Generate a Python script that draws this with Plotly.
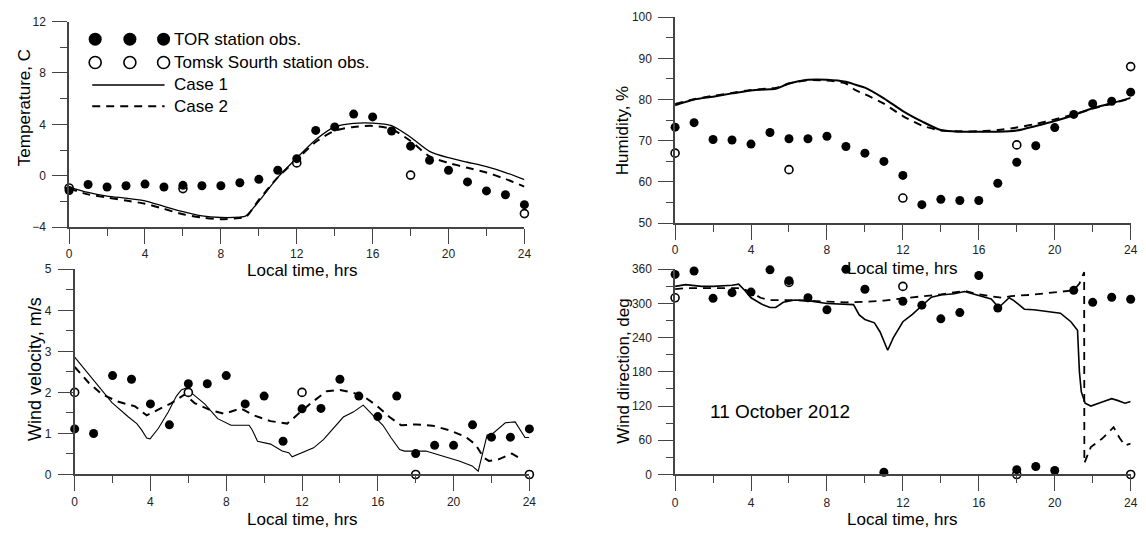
import plotly.graph_objects as go

# ---------------- data ----------------
hours = list(range(25))
tomsk_hours = [0, 6, 12, 18, 24]

# Temperature, C
temp_tor = [-1.15, -0.68, -0.88, -0.78, -0.65, -0.88, -0.75, -0.78, -0.78, -0.55, -0.28, 0.43, 1.33,
            3.53, 3.8, 4.8, 4.58, 3.48, 2.3, 1.2, 0.43, -0.48, -1.18, -1.48, -2.25]
temp_tomsk = [-0.95, -1.0, 1.0, 0.05, -2.95]
temp_model_hours = [0, 1, 2, 3, 4, 5, 6, 7, 8, 9, 9.3, 10, 11, 12, 13, 14, 15, 16, 17, 18, 19, 20, 21, 22, 23, 24]
temp_case1 = [-0.88, -1.3, -1.58, -1.75, -1.95, -2.38, -2.8, -3.13, -3.25, -3.22, -3.15, -2.0, -0.13, 1.38,
              2.8, 3.8, 4.08, 4.1, 3.9, 3.0, 1.9, 1.4, 1.05, 0.7, 0.25, -0.3]
temp_case2 = [-1.0, -1.45, -1.7, -1.93, -2.18, -2.58, -3.0, -3.25, -3.38, -3.3, -3.25, -1.88, -0.13, 1.25,
              2.63, 3.5, 3.8, 3.88, 3.63, 2.7, 1.5, 1.0, 0.62, 0.25, -0.25, -0.85]

# Humidity, %
hum_tor = [73.3, 74.4, 70.3, 70.2, 69.2, 72.0, 70.5, 70.5, 71.1, 68.6, 67.0, 65.0, 61.6, 54.5, 55.8,
           55.5, 55.5, 59.7, 64.8, 68.8, 73.2, 76.4, 79.0, 79.6, 81.8]
hum_tomsk = [67.0, 63.0, 56.1, 69.0, 88.0]
hum_model_hours = [0, 1, 2, 3, 4, 5, 5.3, 6, 7, 8, 9, 9.5, 10, 11, 12, 13, 14, 15, 16, 17, 18, 19, 20, 21, 22, 23, 24]
hum_case1 = [78.6, 80.0, 80.7, 81.5, 82.2, 82.5, 82.6, 83.9, 84.8, 84.8, 84.3, 83.6, 82.9, 80.3, 77.2,
             74.7, 72.6, 72.2, 72.2, 72.2, 72.5, 73.6, 74.8, 76.2, 77.9, 79.1, 80.4]
hum_case2 = [78.9, 80.1, 80.9, 81.6, 82.3, 82.7, 82.8, 83.9, 84.7, 84.6, 83.9, 82.3, 81.3, 79.0, 76.0,
             73.7, 72.5, 72.3, 72.3, 72.6, 73.2, 74.1, 75.2, 76.4, 77.8, 79.0, 80.3]

# Wind velocity, m/s
vel_tor = [1.11, 1.0, 2.41, 2.32, 1.72, 1.21, 2.21, 2.21, 2.41, 1.72, 1.91, 0.81, 1.6, 1.61, 2.32,
           1.91, 1.41, 1.91, 0.51, 0.71, 0.71, 1.21, 0.91, 0.91, 1.11]
vel_tomsk = [2.0, 2.0, 2.0, 0.0, 0.0]
vel_case1_hours = [0, 1.1, 1.97, 2.84, 3.28, 3.54, 3.8, 3.98, 4.41, 4.94, 5.37, 5.63, 5.9, 6.16, 6.86,
                   7.55, 8.25, 9.21, 9.38, 9.65, 10.34, 10.95, 11.3, 11.48, 11.91, 12.61, 13.13, 13.66,
                   14.18, 14.7, 15.23, 15.84, 16.27, 16.71, 17.15, 17.41, 18.54, 19.41, 20.29, 20.98,
                   21.3, 21.77, 22.03, 22.73, 23.25, 23.77, 24.0]
vel_case1 = [2.86, 2.23, 1.75, 1.4, 1.24, 1.08, 0.89, 0.87, 1.12, 1.52, 1.91, 2.06, 2.11, 1.99, 1.72,
             1.36, 1.2, 1.2, 1.08, 0.81, 0.74, 0.57, 0.53, 0.43, 0.51, 0.65, 0.85, 1.12,
             1.4, 1.52, 1.69, 1.4, 1.2, 0.89, 0.61, 0.57, 0.57, 0.45, 0.33, 0.21,
             0.08, 0.96, 0.98, 1.26, 1.28, 0.9, 0.9]
vel_case2_hours = [0, 0.75, 1.45, 2.32, 3.19, 3.8, 4.41, 5.11, 5.81, 6.33, 7.2, 7.9, 8.77, 9.47, 10.34,
                   11.22, 11.91, 12.61, 13.31, 14.01, 14.7, 15.23, 15.93, 16.62, 17.23, 18.02, 18.89,
                   19.76, 20.63, 21.16, 21.59, 21.86, 22.38, 23.08, 23.6]
vel_case2 = [2.62, 2.23, 1.95, 1.77, 1.66, 1.44, 1.58, 1.74, 1.95, 1.74, 1.56, 1.48, 1.61, 1.44, 1.3,
             1.24, 1.52, 1.79, 2.03, 2.06, 1.99, 1.91, 1.68, 1.4, 1.2, 1.22, 1.19,
             1.08, 0.92, 0.73, 0.41, 0.33, 0.37, 0.51, 0.37]

# Wind direction, deg
dir_tor = [351, 357, 309, 319, 320, 359, 340, 310, 289, 360, 325, 4, 304, 297, 273, 284, 349, 292,
           8.5, 14, 7, 323, 302, 311, 307.5]
dir_tomsk = [310, 337, 330, 0, 0]
dir_case1_hours = [0, 0.55, 1.4, 2, 3, 3.35, 3.7, 4, 4.55, 5, 5.3, 5.7, 6.3, 7, 8, 9.1, 9.4, 9.7, 10,
                   10.5, 10.8, 11.2, 11.5, 12, 12.5, 13, 13.5, 14, 14.7, 15.25, 16, 16.65, 17.05, 17.25,
                   17.6, 17.85, 18.4, 18.9, 19.6, 20.3, 20.85, 21.2, 21.3, 21.4, 21.6, 21.9, 22.5, 23.0,
                   23.3, 23.7, 24]
dir_case1 = [330, 333, 330, 330, 332, 334, 322, 310, 299, 293, 293, 302, 306, 305, 300, 298, 298, 280, 272,
             266, 250, 218, 240, 268, 281, 296, 311, 315, 317, 321, 314, 308, 293, 299,
             310, 305, 290, 289, 286, 283, 268, 253, 180, 145, 125, 120, 127, 133,
             130, 125, 128]
dir_case2_hours = [0, 0.55, 2, 3.3, 3.7, 4, 4.5, 5, 6, 7, 8, 9, 10, 11, 12, 13, 14, 15.25, 16, 17.2, 17.7,
                   18.7, 19.9, 21, 21.3, 21.55, 21.56, 21.9, 22.5, 23.1, 23.4, 23.7, 24]
dir_case2 = [325, 327, 327, 327, 324, 320, 310, 306, 306, 305, 303, 302, 303, 305, 309, 312, 316, 322, 316,
             310, 313, 315, 319, 323, 335, 355, 20, 48, 63, 83, 65, 51, 54]

x_ticks = [0, 4, 8, 12, 16, 20, 24]
x_minor = [2, 6, 10, 14, 18, 22]

# ---------------- styling ----------------
W, H = 1146, 537
FONT = "Liberation Sans, Arial, sans-serif"
AX = "#444444"


def px_x(p):
    return p / W


def px_y(p):
    return 1 - p / H


def xaxis(dom, anchor, standoff):
    return dict(domain=dom, anchor=anchor, range=[0, 24], tickvals=x_ticks, ticks="outside", ticklen=15,
                tickwidth=1, tickcolor=AX, showline=True, linecolor=AX, linewidth=1.5, showgrid=False,
                zeroline=False, tickfont=dict(family=FONT, size=12, color="#222222"),
                ticklabelstandoff=standoff,
                minor=dict(tickvals=x_minor, ticks="outside", ticklen=7, tickwidth=1, tickcolor=AX, showgrid=False))


def yaxis(dom, anchor, rng, tv, mv):
    return dict(domain=dom, anchor=anchor, range=rng, tickvals=tv, ticks="outside", ticklen=15,
                tickwidth=1, tickcolor=AX, showline=True, linecolor=AX, linewidth=1.5, showgrid=False,
                zeroline=False, tickfont=dict(family=FONT, size=12, color="#222222"),
                ticklabelstandoff=4,
                minor=dict(tickvals=mv, ticks="outside", ticklen=7, tickwidth=1, tickcolor=AX, showgrid=False))


fig = go.Figure()

FILLED = dict(symbol="circle", size=9, color="black", line=dict(width=0))
OPEN = dict(symbol="circle", size=8, color="white", line=dict(width=1.6, color="black"))
DASH = "8px,6px"


def add_panel(xa, ya, mh1, m1, mh2, m2, tor, tomsk, spline, w1=1.3, w2=2.0):
    shape = "spline" if spline else "linear"
    fig.add_trace(go.Scatter(x=mh1, y=m1, mode="lines", xaxis=xa, yaxis=ya, showlegend=False,
                             line=dict(color="black", width=w1, shape=shape, smoothing=0.7), cliponaxis=False))
    fig.add_trace(go.Scatter(x=mh2, y=m2, mode="lines", xaxis=xa, yaxis=ya, showlegend=False,
                             line=dict(color="black", width=w2, dash=DASH, shape=shape, smoothing=0.7),
                             cliponaxis=False))
    fig.add_trace(go.Scatter(x=tomsk_hours, y=tomsk, mode="markers", xaxis=xa, yaxis=ya, showlegend=False,
                             marker=OPEN, cliponaxis=False))
    fig.add_trace(go.Scatter(x=hours, y=tor, mode="markers", xaxis=xa, yaxis=ya, showlegend=False,
                             marker=FILLED, cliponaxis=False))


add_panel("x", "y", temp_model_hours, temp_case1, temp_model_hours, temp_case2, temp_tor, temp_tomsk, True)
add_panel("x2", "y2", hum_model_hours, hum_case1, hum_model_hours, hum_case2, hum_tor, hum_tomsk, True,
          w1=2.0, w2=2.0)
add_panel("x3", "y3", vel_case1_hours, vel_case1, vel_case2_hours, vel_case2, vel_tor, vel_tomsk, False,
          w1=1.1, w2=2.0)
add_panel("x4", "y4", dir_case1_hours, dir_case1, dir_case2_hours, dir_case2, dir_tor, dir_tomsk, False,
          w1=1.6, w2=1.8)

# panel domains in pixels
TL = ([px_x(66.7), px_x(526)], [px_y(226), px_y(15)])
TR = ([px_x(678), px_x(1137.6)], [px_y(222), px_y(10.4)])
BL = ([px_x(72.3), px_x(531)], [px_y(480), px_y(269.3)])
BR = ([px_x(678), px_x(1137.6)], [px_y(480), px_y(269.3)])

layout = dict(
    width=W, height=H, margin=dict(l=0, r=0, t=0, b=0), paper_bgcolor="white", plot_bgcolor="white",
    showlegend=False, font=dict(family=FONT, color="black"),
    xaxis=xaxis(TL[0], "y", 0),
    yaxis=yaxis(TL[1], "x", [-4, 12], [-4, 0, 4, 8, 12], [-2, 2, 6, 10]),
    xaxis2=xaxis(TR[0], "y2", 0),
    yaxis2=yaxis(TR[1], "x2", [50, 100], [50, 60, 70, 80, 90, 100], [55, 65, 75, 85, 95]),
    xaxis3=xaxis(BL[0], "y3", 0),
    yaxis3=yaxis(BL[1], "x3", [0, 5], [0, 1, 2, 3, 4, 5], [0.5, 1.5, 2.5, 3.5, 4.5]),
    xaxis4=xaxis(BR[0], "y4", 1),
    yaxis4=yaxis(BR[1], "x4", [0, 360], [0, 60, 120, 180, 240, 300, 360], [30, 90, 150, 210, 270, 330]),
)
fig.update_layout(**layout)

annotations = []


def text(x, y, s, size=17, angle=0, xanchor="center"):
    annotations.append(dict(x=px_x(x), y=px_y(y), xref="paper", yref="paper", text=s, showarrow=False,
                            textangle=angle, xanchor=xanchor, yanchor="middle",
                            font=dict(family=FONT, size=size, color="black")))


# axis titles
text(302, 271, "Local time, hrs")
text(302, 526, "Local time, hrs")
text(907, 268, "Local time, hrs")
text(907, 526, "Local time, hrs")
text(21, 103, "Temperature, C", size=17, angle=-90)
text(33, 372, "Wind velocity, m/s", size=18, angle=-90)
text(625, 127, "Humidity, %", size=17, angle=-90)
text(626, 374, "Wind direction, deg", size=17, angle=-90)

# date label
annotations.append(dict(x=1.75, y=111, xref="x4", yref="y4", text="11 October 2012", showarrow=False,
                        xanchor="left", yanchor="middle", font=dict(family=FONT, size=19, color="black")))

# legend (drawn manually, Grapher style)
shapes = []
leg_x = [93, 128, 162]
for cx in leg_x:
    shapes.append(dict(type="circle", xref="paper", yref="paper", xsizemode="pixel", ysizemode="pixel",
                       xanchor=px_x(cx), yanchor=px_y(33), x0=-6.5, x1=6.5, y0=-6.5, y1=6.5,
                       fillcolor="black", line=dict(width=0)))
    shapes.append(dict(type="circle", xref="paper", yref="paper", xsizemode="pixel", ysizemode="pixel",
                       xanchor=px_x(cx), yanchor=px_y(57), x0=-6, x1=6, y0=-6, y1=6,
                       fillcolor="white", line=dict(width=1.6, color="black")))
shapes.append(dict(type="line", xref="paper", yref="paper", x0=px_x(90), x1=px_x(163), y0=px_y(80),
                   y1=px_y(80), line=dict(color="black", width=1.5)))
shapes.append(dict(type="line", xref="paper", yref="paper", x0=px_x(90), x1=px_x(163), y0=px_y(102),
                   y1=px_y(102), line=dict(color="black", width=2, dash=DASH)))
text(170, 33, "TOR station obs.", xanchor="left")
text(170, 57, "Tomsk Sourth station obs.", xanchor="left")
text(170, 80, "Case 1", xanchor="left")
text(170, 102, "Case 2", xanchor="left")

fig.update_layout(annotations=annotations, shapes=shapes)

fig.write_html("out.html", config={"displayModeBar": False},
               post_script="document.body.style.margin='0px';document.body.style.overflow='hidden';")
